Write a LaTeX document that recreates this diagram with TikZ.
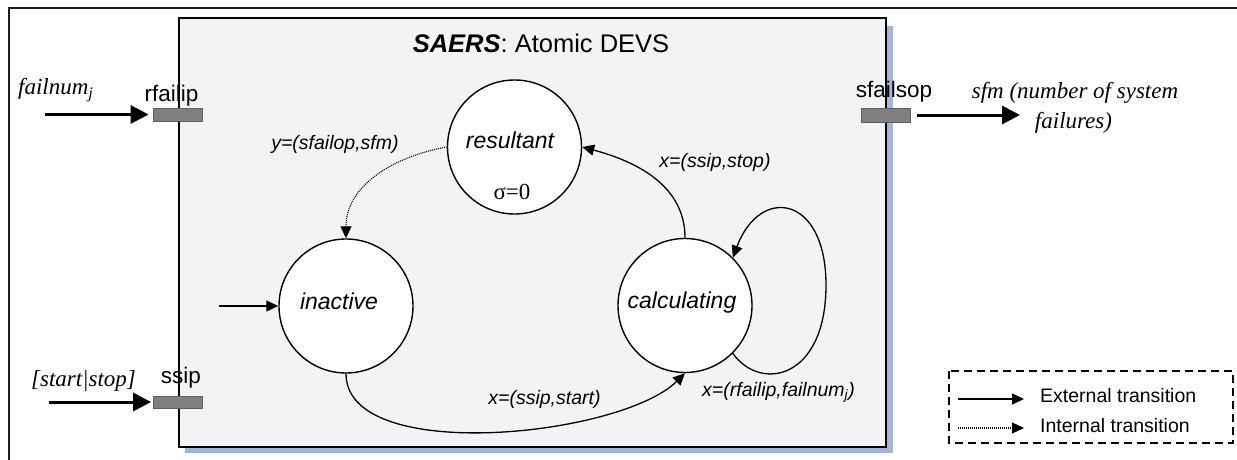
\documentclass[tikz,border=0pt]{standalone}
\usepackage{fontspec}
\setmainfont{Liberation Sans}
\newfontfamily\tnr{Liberation Serif}
\usetikzlibrary{arrows.meta}
\definecolor{boxfill}{HTML}{F2F3F5}
\definecolor{shadowc}{HTML}{A3B6D9}
\definecolor{portfill}{HTML}{808080}
\definecolor{portedge}{HTML}{5F5F5F}
\definecolor{framec}{HTML}{1E1E1E}
\begin{document}
\begin{tikzpicture}[x=1pt,y=1pt,
  state/.style={circle,draw,line width=1.4pt,fill=white,minimum size=134pt,inner sep=0pt},
  port/.style={rectangle,draw=portedge,fill=portfill,line width=0.8pt,minimum width=49pt,minimum height=13pt,inner sep=0pt},
  bigarrow/.style={line width=3pt,-{Triangle[length=18pt,width=18pt]}},
  ext/.style={line width=1.3pt,-{Triangle[length=12pt,width=11pt]}},
  int/.style={line width=1.1pt,dash pattern=on 1pt off 1pt,-{Triangle[length=12pt,width=11pt]}},
  lbl/.style={font=\fontsize{19.5}{22}\selectfont\itshape,inner sep=0pt},
  statelbl/.style={font=\fontsize{23}{26}\selectfont\itshape,inner sep=0pt,anchor=base},
  portlbl/.style={font=\fontsize{22.5}{26}\selectfont,inner sep=0pt,anchor=base},
  serlbl/.style={font=\fontsize{23}{27}\selectfont\tnr\itshape,inner sep=0pt},
  leglbl/.style={font=\fontsize{19.5}{22}\selectfont,inner sep=0pt,anchor=base west}
]
\useasboundingbox (0,0) rectangle (1237,-460);
% outer frame
\draw[line width=2pt,framec] (9,-465) -- (9,-8) -- (1245,-8);
% model box with shadow
\fill[shadowc] (185,-26) rectangle (893,-453);
\draw[line width=1.5pt,fill=boxfill] (179,-18) rectangle (886,-447);
\node[inner sep=0pt,anchor=base,font=\fontsize{25.5}{30}\selectfont] (title) at (541,-53) {\textbf{\textit{SAERS}}: Atomic DEVS};
% states
\node[state] (res) at (514.5,-147) {};
\node[state] (inact) at (346,-306) {};
\node[state] (calc) at (685,-305.5) {};
\node[statelbl] (resT) at (510,-148) {resultant};
\node[statelbl,font=\fontsize{23}{26}\selectfont\tnr] (sigma) at (512,-199) {σ=0};
\node[statelbl] (inactT) at (339,-309) {inactive};
\node[statelbl] (calcT) at (682,-308) {calculating};
% ports
\node[port] (prf) at (177.5,-114.5) {};
\node[port,minimum height=12pt] (pss) at (178,-402) {};
\node[port,minimum height=14pt] (psf) at (886,-115) {};
\node[portlbl] (prfT) at (171.5,-101) {rfailip};
\node[portlbl] (pssT) at (181,-383) {ssip};
\node[portlbl] (psfT) at (894,-97) {sfailsop};
% port arrows
\coordinate (a1) at (45,-114.5);
\coordinate (a2) at (49,-402);
\coordinate (a3) at (1020,-115);
\draw[bigarrow,shorten >=4pt] (a1) -- (prf.west);
\draw[bigarrow,shorten >=2pt] (a2) -- (pss.west);
\draw[bigarrow,shorten <=6pt] (psf.east) -- (a3);
\node[serlbl,anchor=base west] (fnT) at (18,-95) {failnum\textsubscript{j}};
\node[serlbl,anchor=base west] (ssT) at (31,-386) {[start|stop]};
\node[serlbl,anchor=base] (sfm1) at (1075,-99) {sfm (number of system};
\node[serlbl,anchor=base] (sfm2) at (1073.5,-128) {failures)};
% transitions
\coordinate (i0) at (219,-306);
\draw[ext] (i0) -- (inact.west);
\draw[int] (res.west) to[out=190,in=90] (inact.north);
\draw[ext] (calc.north) to[out=90,in=-15] (res.east);
\draw[ext] (inact.south) .. controls (346,-465) and (620,-437) .. (calc.south);
\coordinate (lp) at (826,-285);
\draw[ext] (calc.-45) .. controls (760,-392) and (826,-380) .. (lp) .. controls (826,-195) and (760,-185) .. (calc.45);
\node[lbl] (yT) at (335,-144) {y=(sfailop,sfm)};
\node[lbl] (stopT) at (715,-162) {x=(ssip,stop)};
\node[lbl] (startT) at (544.5,-399) {x=(ssip,start)};
\node[lbl] (rfT) at (778.5,-392) {x=(rfailip,failnum\textsubscript{j})};
% legend
\draw[line width=1.2pt,dash pattern=on 8pt off 5pt] (949,-371) rectangle (1233,-443);
\coordinate (l1a) at (958,-399);
\coordinate (l1b) at (1024,-399);
\coordinate (l2a) at (958,-428);
\coordinate (l2b) at (1024,-428);
\draw[ext] (l1a) -- (l1b);
\draw[int] (l2a) -- (l2b);
\node[leglbl] (extT) at (1040,-402) {External transition};
\node[leglbl] (intT) at (1040,-432) {Internal transition};
\end{tikzpicture}
\end{document}
